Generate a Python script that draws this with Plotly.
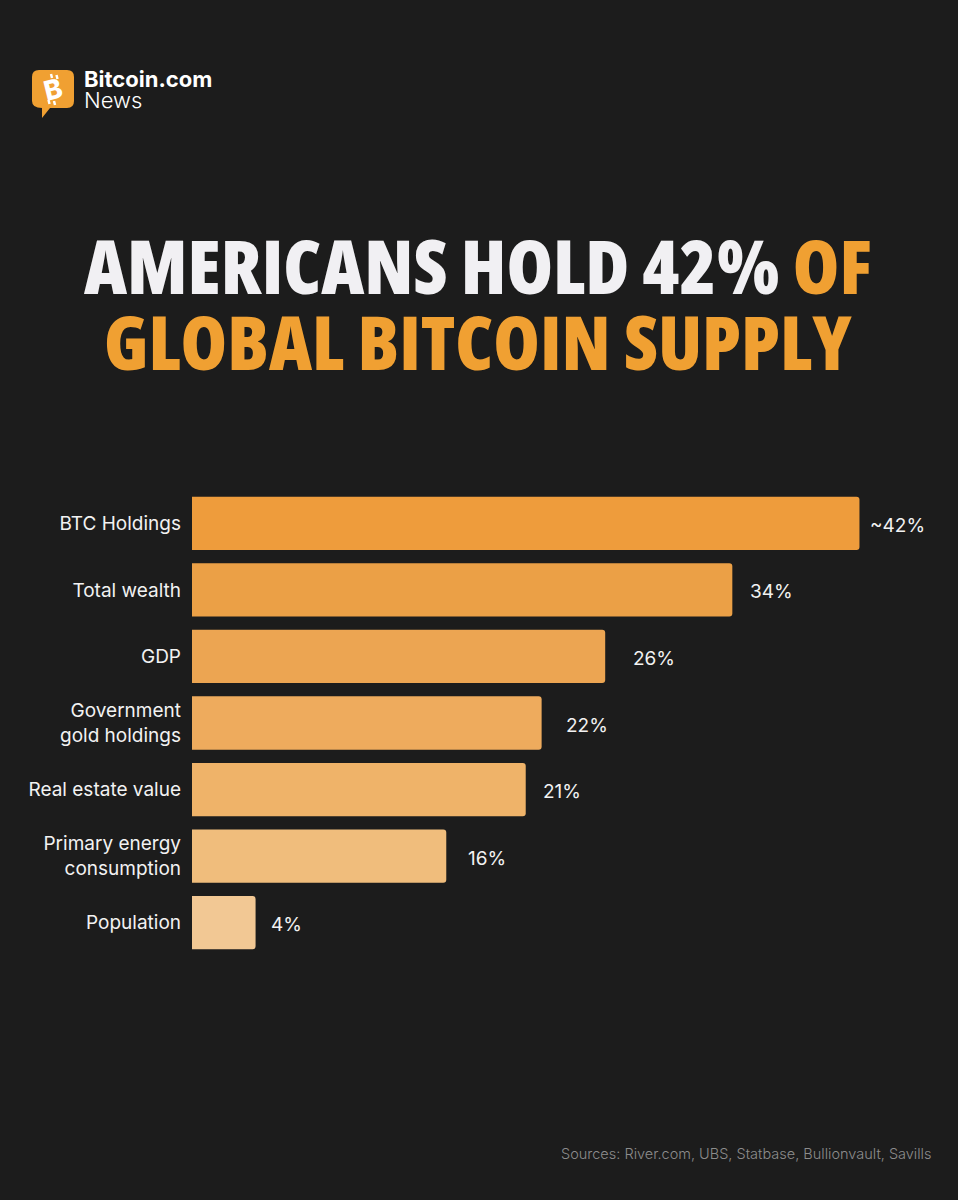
import plotly.graph_objects as go

categories = ["BTC Holdings", "Total wealth", "GDP", "Government<br>gold holdings",
              "Real estate value", "Primary energy<br>consumption", "Population"]
values = [42, 34, 26, 22, 21, 16, 4]
value_labels = ["~42%", "34%", "26%", "22%", "21%", "16%", "4%"]

# styles (kept apart from the data)
bar_colors = ["#EE9C3C", "#EBA046", "#ECA552", "#EEAB5D", "#EFB369", "#F0BD7C", "#F2C894"]
label_dx = [9, 16, 26, 22, 15, 20, 13]

W, H = 958, 1200
BG = "#1C1C1C"
ORANGE = "#F0A032"
TITLE_FONT = dict(family="Open Sans", size=75, weight=800)
COND = "font-stretch:75%;"

def px(x):
    return x / W

def py(y):
    return 1 - y / H

fig = go.Figure()
fig.add_trace(go.Bar(
    x=values, y=categories, orientation="h",
    marker=dict(color=bar_colors, line=dict(width=0), cornerradius=3),
    width=0.8, hoverinfo="skip",
))

for v, lab, cat, dx in zip(values, value_labels, categories, label_dx):
    fig.add_annotation(x=v, y=cat, xref="x", yref="y", text=lab, showarrow=False,
                       xanchor="left", yanchor="middle", xshift=dx, yshift=-2,
                       font=dict(family="Inter", size=19, color="#F2F2F2"))

# Title
fig.add_annotation(x=0.499, y=py(265), xref="paper", yref="paper", showarrow=False,
                   xanchor="center", yanchor="middle",
                   text="<span style='" + COND + "'>AMERICANS HOLD 42% </span>"
                        "<span style='" + COND + "color:" + ORANGE + "'>OF</span>",
                   font=dict(color="#F1F0F3", **TITLE_FONT))
fig.add_annotation(x=0.499, y=py(341), xref="paper", yref="paper", showarrow=False,
                   xanchor="center", yanchor="middle",
                   text="<span style='" + COND + "'>GLOBAL BITCOIN SUPPLY</span>",
                   font=dict(color=ORANGE, **TITLE_FONT))

# Logo
logo_path = ("M {x0},{y0} L {x1},{y0} Q {x2},{y0} {x2},{y1} L {x2},{y2} Q {x2},{y3} {x1},{y3} "
             "L {x4},{y3} L {x5},{y5} L {x5},{y3} Q {x6},{y3} {x6},{y2} L {x6},{y1} Q {x6},{y0} {x0},{y0} Z")
logo_path = logo_path.format(
    x0=px(39), x1=px(67), x2=px(74), x4=px(50), x5=px(42), x6=px(32),
    y0=py(70), y1=py(77), y2=py(101), y3=py(108), y5=py(118))
fig.add_shape(type="path", path=logo_path, xref="paper", yref="paper",
              fillcolor=ORANGE, line=dict(width=0))
fig.add_annotation(x=px(53), y=py(89), xref="paper", yref="paper", showarrow=False,
                   xanchor="center", yanchor="middle",
                   text="B", textangle=-14,
                   font=dict(family="Inter", size=27, color="#FFFFFF", weight=800))
for (xa, ya, xb, yb) in [(51, 74, 52, 78), (56.5, 75, 57.5, 79), (48.5, 100, 49.5, 104), (54, 101, 55, 105)]:
    fig.add_shape(type="line", xref="paper", yref="paper",
                  x0=px(xa), y0=py(ya), x1=px(xb), y1=py(yb),
                  line=dict(color="#FFFFFF", width=2.5))
fig.add_annotation(x=px(82), y=py(79), xref="paper", yref="paper", showarrow=False,
                   xanchor="left", yanchor="middle", text="Bitcoin.com",
                   font=dict(family="Inter", size=22, color="#FFFFFF", weight="bold"))
fig.add_annotation(x=px(82), y=py(100), xref="paper", yref="paper", showarrow=False,
                   xanchor="left", yanchor="middle", text="News",
                   font=dict(family="Inter", size=22, color="#FFFFFF", weight=300))

# Source
fig.add_annotation(x=px(933), y=py(1153), xref="paper", yref="paper", showarrow=False,
                   xanchor="right", yanchor="middle",
                   text="Sources: River.com, UBS, Statbase, Bullionvault, Savills",
                   font=dict(family="Inter", size=14.5, color="#8C8C8C", weight=300))

fig.update_layout(
    width=W, height=H, margin=dict(l=0, r=0, t=0, b=0),
    paper_bgcolor=BG, plot_bgcolor=BG, showlegend=False,
    bargap=0.2,
    xaxis=dict(domain=[px(192), 1], range=[0, 48.2], visible=False, fixedrange=True),
    yaxis=dict(domain=[1 - 956 / H, 1 - 490 / H], autorange="reversed",
               categoryorder="array", categoryarray=categories,
               showgrid=False, showline=False, zeroline=False, ticks="",
               ticklabelstandoff=10, fixedrange=True,
               tickfont=dict(family="Inter", size=19, color="#F2F2F2")),
)

fig.write_html("out.html", config={"displayModeBar": False},
               post_script="document.body.style.margin='0';")
